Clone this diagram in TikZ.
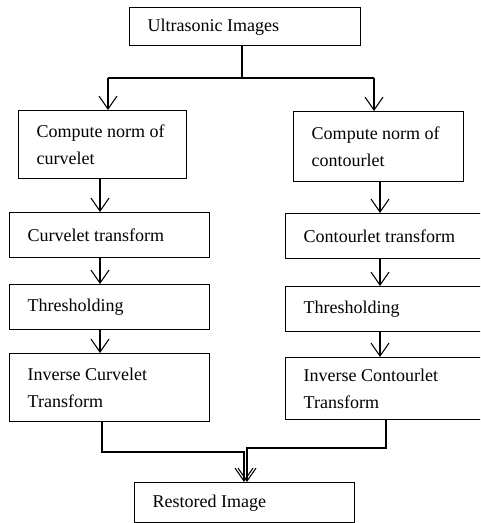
\documentclass[tikz,border=0pt]{standalone}
\usepackage{fontspec}
\setmainfont{Liberation Serif}
\usetikzlibrary{arrows.meta}
\tikzset{
  box/.style={draw, line width=1.1pt, anchor=north west, inner xsep=13.5pt, inner ysep=0pt,
    align=flush left, font=\fontsize{13.5}{20}\selectfont},
  conn/.style={line width=1.4pt},
  arr/.style={conn, -{Straight Barb[length=9.75pt, width=13.5pt, line width=0.8pt]}}
}
\begin{document}
\begin{tikzpicture}[x=0.75pt, y=-0.75pt]
\useasboundingbox (0,0) rectangle (480,523);
\clip (0,0) rectangle (480,523);
% boxes
\node[box, text width=146.25pt, minimum height=28.5pt] (top) at (129,7) {Ultrasonic Images};
\node[box, text width=99pt, minimum height=51pt] (L1) at (18,110) {Compute norm of\\curvelet};
\node[box, text width=100.5pt, minimum height=52.5pt] (R1) at (293,111) {Compute norm of\\contourlet};
\node[box, text width=123pt, minimum height=33.75pt] (L2) at (9,212) {Curvelet transform};
\node[box, text width=126.75pt, minimum height=33.75pt] (R2) at (285,213) {Contourlet transform};
\node[box, text width=123pt, minimum height=33.75pt] (L3) at (9,284) {Thresholding};
\node[box, text width=126.75pt, minimum height=33.75pt] (R3) at (285,286) {Thresholding};
\node[box, text width=123pt, minimum height=51pt] (L4) at (9,353) {Inverse Curvelet\\Transform};
\node[box, text width=126.75pt, minimum height=46.5pt] (R4) at (285,357) {Inverse Contourlet\\Transform};
\node[box, text width=138pt, minimum height=30pt] (Rest) at (134,482) {Restored Image};
% helper coordinates
\coordinate (hs) at (242,78);
\coordinate (hl) at (108,78);
\coordinate (hr) at (374,78);
\coordinate (cl) at (100,0);
\coordinate (cr) at (380,0);
\coordinate (bl) at (102,0);
\coordinate (br) at (386,0);
\coordinate (jl) at (244,452);
\coordinate (jr) at (247,448);
% top split
\draw[conn] (top.south -| hs) -- (hs);
\draw[conn] (hl) -- (hr);
\draw[arr] (hl) -- (L1.north -| hl);
\draw[arr] (hr) -- (R1.north -| hr);
% left chain
\draw[arr] (L1.south -| cl) -- (L2.north -| cl);
\draw[arr] (L2.south -| cl) -- (L3.north -| cl);
\draw[arr] (L3.south -| cl) -- (L4.north -| cl);
% right chain
\draw[arr] (R1.south -| cr) -- (R2.north -| cr);
\draw[arr] (R2.south -| cr) -- (R3.north -| cr);
\draw[arr] (R3.south -| cr) -- (R4.north -| cr);
% merge
\draw[arr] (L4.south -| bl) |- (jl) -- (Rest.north -| jl);
\draw[arr] (R4.south -| br) |- (jr) -- (Rest.north -| jr);
\end{tikzpicture}
\end{document}
